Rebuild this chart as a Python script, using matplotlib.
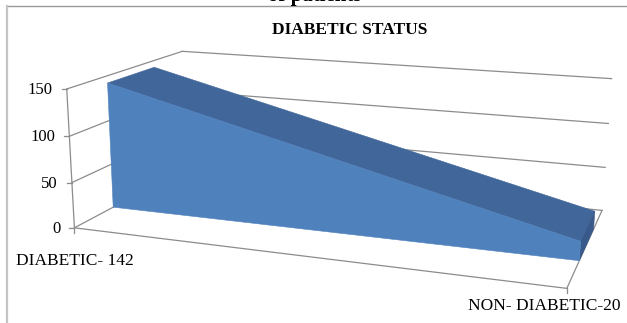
#!/usr/bin/env python3

import numpy as np
import matplotlib
matplotlib.use("Agg")
import matplotlib.pyplot as plt
from matplotlib.patches import Polygon

# data
categories = ["DIABETIC- 142", "NON- DIABETIC-20"]
counts = [142, 20]
y_ticks = [0, 50, 100, 150]
y_max = 150
title = "DIABETIC STATUS"

# colours
FRONT = "#4f81bd"
TOP = "#41679a"
CAP = "#38598a"
GRID = "#8c8c8c"

# depth band taken by the series (0 = front of floor, 1 = back wall)
Z_FRONT, Z_BACK = 0.31, 0.72

plt.rcParams["font.family"] = ["Liberation Serif", "DejaVu Serif"]


def fit_camera(world, screen):
    """Solve a 3x4 projection matrix from box corners (direct linear transform)."""
    rows = []
    for (x, y, z), (u, v) in zip(world, screen):
        X = [x, y / y_max, z, 1.0]
        rows.append(X + [0, 0, 0, 0] + [-u * c for c in X])
        rows.append([0, 0, 0, 0] + X + [-v * c for c in X])
    _, _, vt = np.linalg.svd(np.array(rows))
    return vt[-1].reshape(3, 4)


# corners of the plot box on the page (pixels), used to set up the 3d view
box_world = [(0, 150, 0), (0, 0, 0), (1, 0, 0), (0, 150, 1),
             (1, 150, 1), (1, 0, 1), (0, 0, 1), (1, 100, 1), (1, 50, 1)]
box_page = [(67, 89), (74, 229), (567, 287), (182, 52),
            (612, 78), (602, 212), (186, 167), (608, 123), (605, 168)]
P = fit_camera(box_world, box_page)


def proj(x, y, z):
    h = P @ np.array([x, y / y_max, z, 1.0])
    return h[0] / h[2], h[1] / h[2]


def line3d(ax, a, b, **kw):
    (x0, y0), (x1, y1) = proj(*a), proj(*b)
    ax.plot([x0, x1], [y0, y1], **kw)


def face(ax, pts, color):
    ax.add_patch(Polygon([proj(*p) for p in pts], closed=True, zorder=3,
                         facecolor=color, edgecolor=color, lw=0.4))


fig = plt.figure(figsize=(6.27, 3.23), dpi=100)
ax = fig.add_axes([0, 0, 1, 1])
ax.set_xlim(0, 627)
ax.set_ylim(323, 0)
ax.axis("off")

# chart frame (only top/left edges fall inside the page)
ax.plot([7, 627], [6, 6], color="#9a9a9a", lw=1.0)
ax.plot([7, 7], [6, 323], color="#c4c4c4", lw=1.6)
ax.text(315, 0.5, "of patients", fontsize=15, fontweight="bold",
        ha="center", va="baseline")

ax.text(350, 30, title, fontsize=12.5, fontweight="bold",
        ha="center", va="center")

# side wall and back wall gridlines
for v in y_ticks:
    line3d(ax, (0, v, 0), (0, v, 1), color=GRID, lw=0.9)
    line3d(ax, (0, v, 1), (1, v, 1), color=GRID, lw=0.9)

# value axis with ticks and labels
line3d(ax, (0, 0, 0), (0, y_max, 0), color=GRID, lw=0.9)
for v in y_ticks:
    tx, ty = proj(0, v, 0)
    ax.plot([tx - 5, tx], [ty, ty], color=GRID, lw=0.9)
    ax.text(tx - 14, ty + 1, str(v), fontsize=12, ha="right", va="center")

# floor edges
line3d(ax, (0, 0, 0), (1, 0, 0), color=GRID, lw=0.9)
line3d(ax, (1, 0, 0), (1, 0, 1), color=GRID, lw=0.9)

xs = np.linspace(0, 1, len(counts))
for x in xs:
    tx, ty = proj(x, 0, 0)
    ax.plot([tx, tx], [ty, ty + 5], color=GRID, lw=0.9)

# category labels under the front floor edge
lx, ly = proj(xs[0], 0, 0)
ax.text(lx, ly + 33, categories[0], fontsize=12.5, ha="center", va="center")
rx, ry = proj(xs[-1], 0, 0)
ax.text(rx - 23, ry + 18, categories[1], fontsize=12.5, ha="center", va="center")

# 3d area: sloping top, end cap, then front face
for i in range(len(counts) - 1):
    face(ax, [(xs[i], counts[i], Z_FRONT), (xs[i + 1], counts[i + 1], Z_FRONT),
              (xs[i + 1], counts[i + 1], Z_BACK), (xs[i], counts[i], Z_BACK)], TOP)
face(ax, [(xs[-1], 0, Z_FRONT), (xs[-1], counts[-1], Z_FRONT),
          (xs[-1], counts[-1], Z_BACK), (xs[-1], 0, Z_BACK)], CAP)
front = [(x, c, Z_FRONT) for x, c in zip(xs, counts)]
front += [(xs[-1], 0, Z_FRONT), (xs[0], 0, Z_FRONT)]
face(ax, front, FRONT)

fig.savefig("out.png", dpi=100)
